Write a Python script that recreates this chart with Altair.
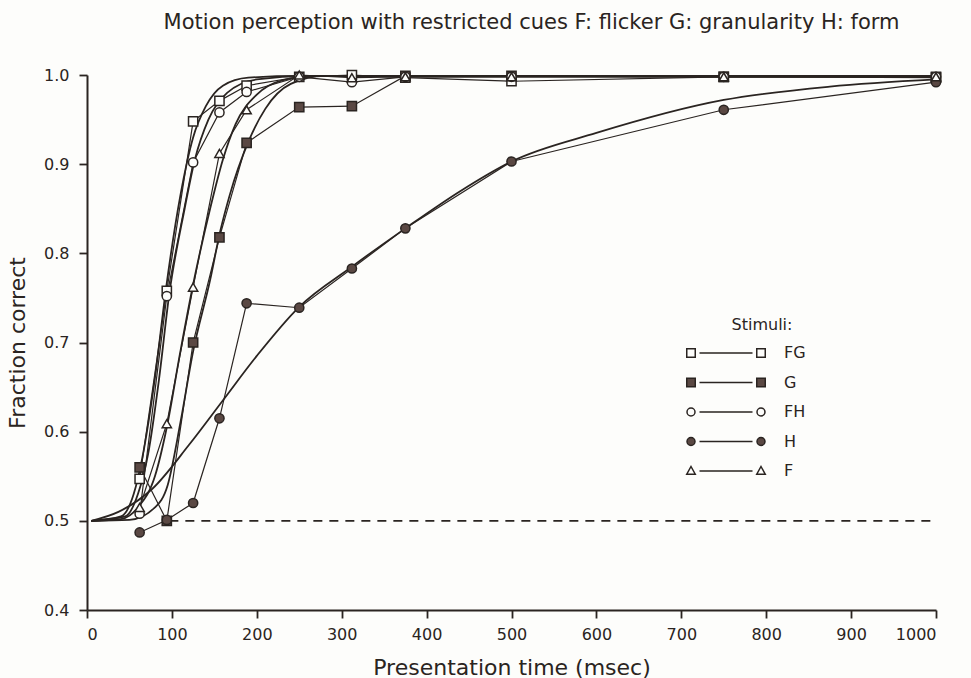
import altair as alt
import pandas as pd

# ---------------- data ----------------
series_names = ["FG", "G", "FH", "H", "F"]
times = [62, 94, 125, 156, 188, 250, 312, 375, 500, 750, 1000]

frac_FG = [0.547, 0.758, 0.948, 0.971, 0.988, 0.998, 1.000, 0.997, 0.993, 0.998, 0.997]
frac_G = [0.560, 0.500, 0.700, 0.818, 0.924, 0.964, 0.965, 0.999, 0.999, 0.998, 0.998]
frac_FH = [0.508, 0.752, 0.902, 0.958, 0.981, 0.998, 0.992, 0.998, 0.998, 0.998, 0.998]
frac_H = [0.487, 0.501, 0.520, 0.615, 0.744, 0.739, 0.783, 0.828, 0.903, 0.961, 0.992]
frac_F = [0.515, 0.609, 0.762, 0.912, 0.961, 1.000, 0.997, 0.998, 0.998, 0.998, 0.998]

# fitted psychometric curves
fit_FG_x = [5, 40, 55, 65, 80, 93, 110, 125, 140, 160, 190, 250, 1000]
fit_FG_y = [0.5, 0.505, 0.53, 0.57, 0.66, 0.76, 0.865, 0.93, 0.965, 0.988, 0.997, 0.999, 0.999]
fit_FH_x = [5, 45, 60, 72, 85, 97, 115, 127, 143, 165, 200, 260, 1000]
fit_FH_y = [0.5, 0.505, 0.53, 0.575, 0.66, 0.755, 0.85, 0.905, 0.95, 0.98, 0.995, 0.999, 0.999]
fit_F_x = [5, 40, 60, 80, 94, 110, 125, 145, 160, 175, 200, 230, 270, 1000]
fit_F_y = [0.5, 0.502, 0.515, 0.55, 0.605, 0.69, 0.765, 0.85, 0.905, 0.945, 0.978, 0.994, 0.999, 0.999]
fit_G_x = [5, 50, 80, 95, 110, 125, 145, 157, 168, 190, 210, 240, 280, 1000]
fit_G_y = [0.5, 0.501, 0.515, 0.54, 0.61, 0.69, 0.77, 0.825, 0.865, 0.925, 0.962, 0.99, 0.999, 0.999]
fit_H_x = [5, 37, 77, 120, 160, 200, 250, 312, 375, 440, 500, 600, 750, 875, 1000]
fit_H_y = [0.5, 0.51, 0.536, 0.585, 0.635, 0.685, 0.74, 0.785, 0.828, 0.87, 0.903, 0.935, 0.972, 0.987, 0.995]

chance_level = [0.5]
chance_span = [97, 1000]

x_ticks = [0, 100, 200, 300, 400, 500, 600, 700, 800, 900, 1000]
y_ticks = [0.4, 0.5, 0.6, 0.7, 0.8, 0.9, 1.0]

# ---------------- tables ----------------
data_by_series = {"FG": frac_FG, "G": frac_G, "FH": frac_FH, "H": frac_H, "F": frac_F}
pts = pd.DataFrame(
    [{"series": s, "t": t, "frac": v} for s in series_names for t, v in zip(times, data_by_series[s])]
)
fits_src = {
    "FG": (fit_FG_x, fit_FG_y),
    "FH": (fit_FH_x, fit_FH_y),
    "F": (fit_F_x, fit_F_y),
    "G": (fit_G_x, fit_G_y),
    "H": (fit_H_x, fit_H_y),
}
fits = pd.DataFrame(
    [{"series": s, "t": x, "frac": y} for s, (xs, ys) in fits_src.items() for x, y in zip(xs, ys)]
)
chance = pd.DataFrame({"t": [chance_span[0]], "t2": [chance_span[1]], "frac": chance_level})

INK = "#2a2421"
FILLED = "#5a4843"
PAPER = "#fdfdfb"
FONT = "DejaVu Sans"

fill_range = [PAPER, FILLED, PAPER, FILLED, PAPER]
point_shapes = ["square", "square", "circle", "circle", "triangle-up"]

# legend glyphs: marker -- line -- marker (units of 5 px)
line_part = "M-5.3,0H5.3"
def sq(cx):
    return f"M{cx-0.85},-0.85H{cx+0.85}V0.85H{cx-0.85}Z"
def ci(cx):
    return f"M{cx+0.8},0A0.8,0.8 0 1,0 {cx-0.8},0A0.8,0.8 0 1,0 {cx+0.8},0Z"
def tri(cx):
    return f"M{cx},-0.9L{cx+0.85},0.65L{cx-0.85},0.65Z"
legend_shapes = [
    sq(-7) + sq(7) + line_part,
    sq(-7) + sq(7) + line_part,
    ci(-7) + ci(7) + line_part,
    ci(-7) + ci(7) + line_part,
    tri(-7) + tri(7) + line_part,
]

xs = alt.Scale(domain=[0, 1000], nice=False, zero=False)
ys = alt.Scale(domain=[0.4, 1.0], nice=False, zero=False)

x_enc = alt.X(
    "t:Q", scale=xs,
    axis=alt.Axis(values=x_ticks, title="Presentation time  (msec)", format="d",
                  labelPadding=8, titlePadding=15),
)
y_enc = alt.Y(
    "frac:Q", scale=ys,
    axis=alt.Axis(values=y_ticks, title="Fraction correct", format=".1f",
                  labelPadding=10, titlePadding=14),
)

fit_layer = alt.Chart(fits).mark_line(
    interpolate="monotone", color=INK, strokeWidth=1.8
).encode(x=x_enc, y=y_enc, detail="series:N")

data_lines = alt.Chart(pts).mark_line(color=INK, strokeWidth=1.2).encode(
    x="t:Q", y="frac:Q", detail="series:N", order="t:Q"
)

chance_rule = alt.Chart(chance).mark_rule(
    color=INK, strokeWidth=1.6, strokeDash=[9, 7]
).encode(x="t:Q", x2="t2:Q", y="frac:Q")

points = alt.Chart(pts).mark_point(
    filled=True, stroke=INK, strokeWidth=1.5, size=85, opacity=1
).encode(
    x="t:Q", y="frac:Q",
    shape=alt.Shape("series:N", scale=alt.Scale(domain=series_names, range=point_shapes), legend=None),
    fill=alt.Fill("series:N", scale=alt.Scale(domain=series_names, range=fill_range), legend=None),
)

legend_props = dict(
    title="Stimuli:", orient="none", legendX=631, legendY=242,
    symbolSize=100, symbolStrokeWidth=1.5,
    labelOffset=50, rowPadding=13.5, titlePadding=12, padding=0,
    labelFontSize=16, titleFontSize=16, titleFontWeight="normal",
    labelFont=FONT, titleFont=FONT, titleColor=INK, labelColor=INK,
    titleAnchor="middle",
)

legend_layer = alt.Chart(pts).transform_filter("false").mark_point(
    filled=True, strokeWidth=1.5, opacity=1
).encode(
    x="t:Q", y="frac:Q",
    stroke=alt.Stroke(
        "series:N", scale=alt.Scale(domain=series_names, range=[INK] * 5),
        legend=alt.Legend(**legend_props),
    ),
    shape=alt.Shape(
        "series:N", scale=alt.Scale(domain=series_names, range=legend_shapes),
        legend=alt.Legend(**legend_props),
    ),
    fill=alt.Fill(
        "series:N", scale=alt.Scale(domain=series_names, range=fill_range),
        legend=alt.Legend(**legend_props),
    ),
)

chart = alt.layer(fit_layer, data_lines, chance_rule, points, legend_layer).resolve_scale(
    shape="independent", fill="independent", stroke="independent"
).properties(
    width=849, height=535,
    title=alt.Title(
        "Motion perception with restricted cues  F: flicker  G: granularity  H: form",
        font=FONT, fontSize=21, fontWeight="normal", color=INK,
        anchor="middle", dx=20, offset=34,
    ),
    padding={"left": 87, "top": 75, "right": 35, "bottom": 68},
    autosize="none",
    background=PAPER,
).configure_view(stroke=None).configure_axis(
    grid=False, domainColor=INK, domainWidth=2, tickColor=INK, tickWidth=1.8, tickSize=8,
    labelFont=FONT, labelFontSize=16, labelColor=INK,
    titleFont=FONT, titleFontSize=22, titleFontWeight="normal", titleColor=INK,
)

chart.save("out.html", embed_options={"renderer": "svg", "actions": False})
